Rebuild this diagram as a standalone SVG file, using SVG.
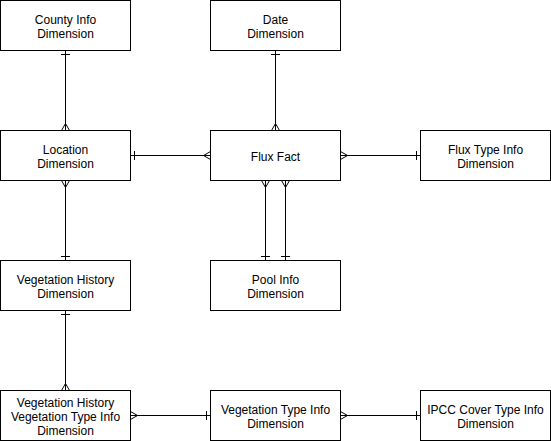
<svg xmlns="http://www.w3.org/2000/svg" width="551" height="441" viewBox="0 0 551 441">
<style>
.box{fill:#fff;stroke:#000;stroke-width:1}
.lbl{font-family:"Liberation Sans",Arial,sans-serif;font-size:12px;fill:#000;text-anchor:middle}
.edge{fill:none;stroke:#000;stroke-width:1}
.mk{fill:none;stroke:#000;stroke-width:1}
</style>
<defs>
<marker id="one" markerUnits="userSpaceOnUse" orient="auto-start-reverse" refX="0" refY="0" markerWidth="20" markerHeight="20" viewBox="-10 -10 20 20" overflow="visible">
<path class="mk" d="M-4,-4.5 L-4,4.5"/>
</marker>
<marker id="many" markerUnits="userSpaceOnUse" orient="auto-start-reverse" refX="0" refY="0" markerWidth="20" markerHeight="20" viewBox="-10 -10 20 20" overflow="visible">
<path class="mk" d="M0,-4 L-7,0 L0,4"/>
</marker>
</defs>
<g id="connectors">
<path class="edge" d="M65.5,50.5 L65.5,130.5" marker-start="url(#one)" marker-end="url(#many)"/>
<path class="edge" d="M275.5,50.5 L275.5,130.5" marker-start="url(#one)" marker-end="url(#many)"/>
<path class="edge" d="M130.5,155.5 L210.5,155.5" marker-start="url(#one)" marker-end="url(#many)"/>
<path class="edge" d="M340.5,155.5 L420.5,155.5" marker-start="url(#many)" marker-end="url(#one)"/>
<path class="edge" d="M265.5,180.5 L265.5,260.5" marker-start="url(#many)" marker-end="url(#one)"/>
<path class="edge" d="M285.5,180.5 L285.5,260.5" marker-start="url(#many)" marker-end="url(#one)"/>
<path class="edge" d="M65.5,180.5 L65.5,260.5" marker-start="url(#many)" marker-end="url(#one)"/>
<path class="edge" d="M65.5,310.5 L65.5,390.5" marker-start="url(#one)" marker-end="url(#many)"/>
<path class="edge" d="M130.5,415.5 L210.5,415.5" marker-start="url(#many)" marker-end="url(#one)"/>
<path class="edge" d="M340.5,415.5 L420.5,415.5" marker-start="url(#many)" marker-end="url(#one)"/>
</g>
<g id="county"><rect class="box" x="0.5" y="0.5" width="130" height="50"/><text class="lbl" x="65.5" y="23.5">County Info</text><text class="lbl" x="65.5" y="37.5">Dimension</text></g>
<g id="date"><rect class="box" x="210.5" y="0.5" width="130" height="50"/><text class="lbl" x="275.5" y="23.5">Date</text><text class="lbl" x="275.5" y="37.5">Dimension</text></g>
<g id="location"><rect class="box" x="0.5" y="130.5" width="130" height="50"/><text class="lbl" x="65.5" y="153.5">Location</text><text class="lbl" x="65.5" y="167.5">Dimension</text></g>
<g id="fluxfact"><rect class="box" x="210.5" y="130.5" width="130" height="50"/><text class="lbl" x="275.5" y="160.5">Flux Fact</text></g>
<g id="fluxtype"><rect class="box" x="420.5" y="130.5" width="130" height="50"/><text class="lbl" x="485.5" y="153.5">Flux Type Info</text><text class="lbl" x="485.5" y="167.5">Dimension</text></g>
<g id="veghist"><rect class="box" x="0.5" y="260.5" width="130" height="50"/><text class="lbl" x="65.5" y="283.5">Vegetation History</text><text class="lbl" x="65.5" y="297.5">Dimension</text></g>
<g id="pool"><rect class="box" x="210.5" y="260.5" width="130" height="50"/><text class="lbl" x="275.5" y="283.5">Pool Info</text><text class="lbl" x="275.5" y="297.5">Dimension</text></g>
<g id="vhvt"><rect class="box" x="0.5" y="390.5" width="130" height="50"/><text class="lbl" x="65.5" y="406.5">Vegetation History</text><text class="lbl" x="65.5" y="420.5">Vegetation Type Info</text><text class="lbl" x="65.5" y="434.5">Dimension</text></g>
<g id="vegtype"><rect class="box" x="210.5" y="390.5" width="130" height="50"/><text class="lbl" x="275.5" y="413.5">Vegetation Type Info</text><text class="lbl" x="275.5" y="427.5">Dimension</text></g>
<g id="ipcc"><rect class="box" x="420.5" y="390.5" width="130" height="50"/><text class="lbl" x="485.5" y="413.5">IPCC Cover Type Info</text><text class="lbl" x="485.5" y="427.5">Dimension</text></g>
</svg>
